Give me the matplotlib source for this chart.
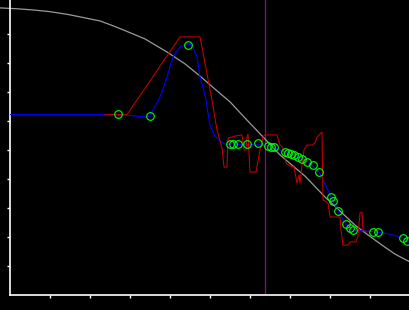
import numpy as np
import matplotlib
matplotlib.use("Agg")
import matplotlib.pyplot as plt

# smooth reference curve (grey)
ref_x = [-0.25, 0.175, 0.575, 1.00, 1.425, 1.825, 2.25, 2.525, 2.80, 3.375,
         3.925, 4.375, 4.75, 5.125, 5.50, 5.925, 6.375, 6.75, 7.375, 7.875,
         8.625, 8.95, 9.30, 9.625, 10.00]
ref_y = [9.90, 9.87, 9.83, 9.77, 9.68, 9.57, 9.45, 9.31, 9.16, 8.83,
         8.38, 7.97, 7.55, 7.10, 6.66, 6.03, 5.38, 4.83, 4.10, 3.38,
         2.41, 2.07, 1.72, 1.41, 1.14]

# smoothed fit (blue)
fit_x = [0.00, 2.70, 3.00, 3.375, 3.50, 3.575, 3.75, 3.925, 4.075, 4.25,
         4.425, 4.55, 4.675, 4.75, 4.875, 5.00, 5.125, 5.25, 5.375, 6.375,
         6.55, 6.75, 7.00, 7.25, 7.50, 7.725, 7.875, 8.025, 8.20, 8.40,
         8.575, 8.875, 9.20, 9.50, 9.825, 10.00]
fit_y = [6.22, 6.22, 6.19, 6.14, 6.17, 6.38, 6.83, 7.52, 8.21, 8.55,
         8.66, 8.62, 8.21, 7.52, 6.90, 5.86, 5.48, 5.31, 5.21, 5.17,
         5.10, 5.00, 4.86, 4.72, 4.55, 4.24, 3.83, 3.38, 2.90, 2.45,
         2.24, 2.21, 2.17, 2.10, 1.97, 1.79]

# raw signal (red)
raw_x = [2.375, 2.925, 4.25, 4.75, 4.875, 5.05, 5.175, 5.30, 5.35, 5.425,
         5.45, 5.625, 5.80, 5.85, 5.90, 5.925, 5.95, 6.00, 6.15, 6.25,
         6.325, 6.375, 6.675, 6.75, 6.825, 6.90, 7.00, 7.10, 7.175, 7.225,
         7.25, 7.30, 7.35, 7.425, 7.55, 7.625, 7.675, 7.75, 7.80, 7.825,
         7.95, 8.00, 8.25, 8.275, 8.325, 8.45, 8.50, 8.65, 8.70, 8.75,
         8.80, 8.825, 8.90]
raw_y = [6.22, 6.22, 8.90, 8.90, 8.00, 6.72, 5.69, 5.07, 4.41, 4.41,
         5.41, 5.48, 5.52, 5.00, 5.00, 5.45, 5.55, 4.24, 4.24, 5.00,
         5.45, 5.52, 5.52, 5.17, 5.07, 4.55, 4.45, 4.41, 3.86, 4.14,
         3.86, 4.48, 5.00, 5.17, 5.17, 5.24, 5.45, 5.55, 5.62, 3.28,
         3.17, 2.69, 2.69, 2.24, 1.72, 1.72, 1.83, 1.83, 2.03, 2.83,
         2.86, 2.24, 2.17]

# sample points (green circles)
pts_x = [2.70, 3.50, 4.45, 5.50, 5.575, 5.70, 5.925, 6.20, 6.45, 6.525,
         6.60, 6.875, 6.95, 7.025, 7.10, 7.20, 7.30, 7.425, 7.575, 7.725,
         8.025, 8.075, 8.20, 8.40, 8.50, 8.575, 9.075, 9.20, 9.825, 9.925]
pts_y = [6.24, 6.17, 8.62, 5.21, 5.21, 5.21, 5.21, 5.24, 5.14, 5.10,
         5.10, 4.93, 4.90, 4.86, 4.83, 4.76, 4.69, 4.59, 4.48, 4.24,
         3.38, 3.24, 2.90, 2.45, 2.31, 2.24, 2.17, 2.17, 1.97, 1.86]

cursor_x = 6.375

fig = plt.figure(figsize=(4.1, 3.1), dpi=100, facecolor="black")
ax = fig.add_axes([10 / 410, 15 / 310, 400 / 410, 295 / 310])
ax.set_facecolor("black")

ax.axvline(cursor_x, color="#9a009a", lw=0.9, zorder=1)
ax.plot(ref_x, ref_y, color="#9a9a9a", lw=0.9, zorder=2, clip_on=False)
ax.plot(fit_x, fit_y, color="#0000ff", lw=0.8, zorder=3)
ax.plot(raw_x, raw_y, color="#c80000", lw=0.75, zorder=4)
ax.plot(pts_x, pts_y, "o", ms=5.5, mfc="none", mec="#00ff00", mew=0.8, zorder=5)

ax.set_xlim(0, 10)
ax.set_ylim(0, 295 / 29)
ax.set_xticks(range(1, 10))
ax.set_yticks(range(1, 10))
ax.set_xticklabels([])
ax.set_yticklabels([])
ax.tick_params(colors="white", direction="out", length=2.5, width=1)
for s in ["top", "right"]:
    ax.spines[s].set_visible(False)
for s in ["left", "bottom"]:
    ax.spines[s].set_color("white")
    ax.spines[s].set_linewidth(1.2)

fig.savefig("out.png", dpi=100, facecolor="black")
